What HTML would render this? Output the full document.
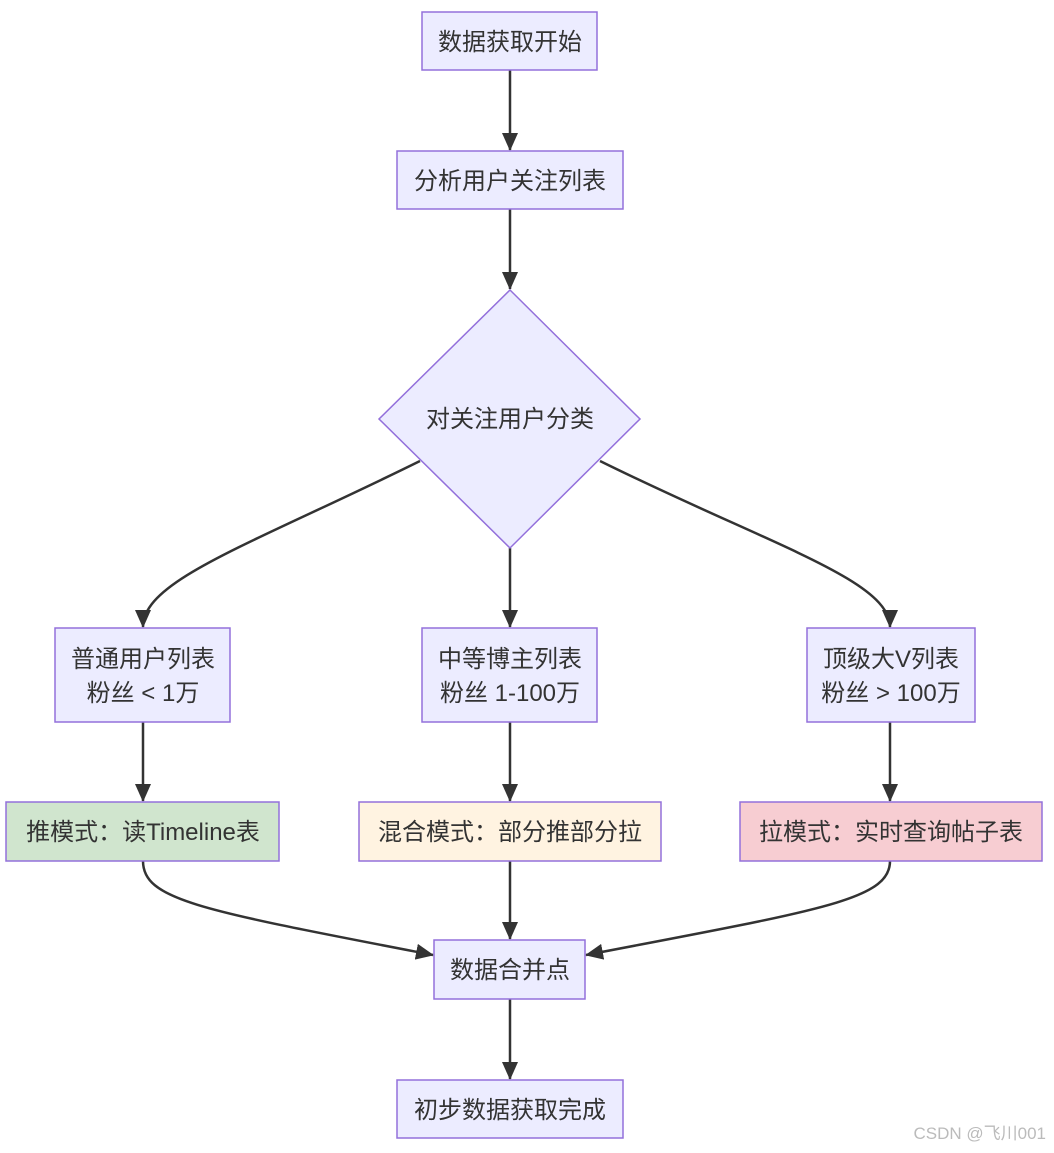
<!DOCTYPE html>
<html><head><meta charset="utf-8"><style>
html,body{margin:0;padding:0;background:#fff;}
svg text{font-family:"Liberation Sans","Noto Sans CJK SC",sans-serif;font-size:24px;fill:#333;}
</style></head><body>
<svg width="1054" height="1148" viewBox="0 0 1054 1148" xmlns="http://www.w3.org/2000/svg">
<defs><marker id="a" markerWidth="10" markerHeight="10" refX="9" refY="5" orient="auto" markerUnits="userSpaceOnUse" viewBox="0 0 10 10"><path d="M0,0L10,5L0,10z" fill="#333"/></marker>
<marker id="b" markerWidth="18" markerHeight="18" refX="17" refY="9" orient="auto" markerUnits="userSpaceOnUse" viewBox="0 0 18 18"><path d="M0,1L18,9L0,17z" fill="#333"/></marker></defs>
<g stroke="#333" stroke-width="2.5" fill="none" marker-end="url(#b)">
<path d="M510,70V150"/>
<path d="M510,209V289"/>
<path d="M420,461C250,545 143,580 143,627"/>
<path d="M510,548V627"/>
<path d="M600,461C770,545 890,580 890,627"/>
<path d="M143,722V801"/>
<path d="M510,722V801"/>
<path d="M890,722V801"/>
<path d="M143,861C143,900 200,910 433,955"/>
<path d="M510,861V939"/>
<path d="M890,861C890,900 820,910 586,955"/>
<path d="M510,999V1079"/>
</g>
<g stroke="#9370DB" stroke-width="1.5">
<rect x="422" y="12" width="175" height="58" fill="#ECECFF"/>
<rect x="397" y="151" width="226" height="58" fill="#ECECFF"/>
<polygon points="510,290 640,419 510,548 379,419" fill="#ECECFF"/>
<rect x="55" y="628" width="175" height="94" fill="#ECECFF"/>
<rect x="422" y="628" width="175" height="94" fill="#ECECFF"/>
<rect x="807" y="628" width="168" height="94" fill="#ECECFF"/>
<rect x="6" y="802" width="273" height="59" fill="#D0E5CE"/>
<rect x="359" y="802" width="302" height="59" fill="#FFF3E1"/>
<rect x="740" y="802" width="302" height="59" fill="#F7CDD2"/>
<rect x="434" y="940" width="151" height="59" fill="#ECECFF"/>
<rect x="397" y="1080" width="226" height="58" fill="#ECECFF"/>
</g>
<g text-anchor="middle">
<text x="510" y="50">数据获取开始</text>
<text x="510" y="189">分析用户关注列表</text>
<text x="510" y="427">对关注用户分类</text>
<text x="143" y="667">普通用户列表</text>
<text x="143" y="701">粉丝 &lt; 1万</text>
<text x="510" y="667">中等博主列表</text>
<text x="510" y="701">粉丝 1-100万</text>
<text x="891" y="667">顶级大V列表</text>
<text x="891" y="701">粉丝 &gt; 100万</text>
<text x="143" y="840">推模式：读Timeline表</text>
<text x="510" y="840">混合模式：部分推部分拉</text>
<text x="891" y="840">拉模式：实时查询帖子表</text>
<text x="510" y="978">数据合并点</text>
<text x="510" y="1118">初步数据获取完成</text>
</g>
<text x="1046" y="1139" text-anchor="end" style="font-size:17px;fill:#bbb">CSDN @飞川001</text>
</svg>
</body></html>
